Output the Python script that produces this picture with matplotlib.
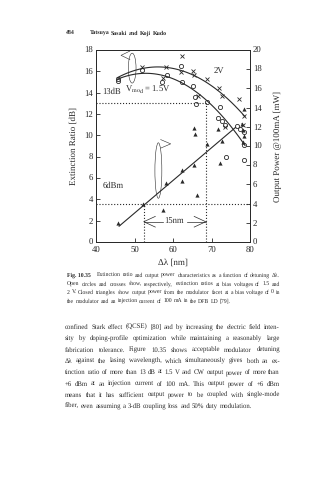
import numpy as np
import matplotlib
matplotlib.use("Agg")
from matplotlib import pyplot as plt
from matplotlib.patches import Ellipse
from matplotlib.textpath import TextPath
from matplotlib.font_manager import FontProperties

plt.rcParams['font.family'] = ['Liberation Serif', 'DejaVu Serif']
plt.rcParams['mathtext.fontset'] = 'stix'
plt.rcParams['text.hinting'] = 'no_hinting'
INK = '#2a2a2a'

# extinction ratio at 1.5 V (open circles), dB
circ_x = [45.8, 45.8, 51.9, 57.2, 58.5, 62.0, 62.3, 65.3, 65.7, 66.1, 68.8,
          72.2, 71.8, 72.6, 73.5, 73.8, 76.6, 77.5, 78.4, 78.4, 78.4]
circ_y = [15.1, 15.3, 16.1, 15.0, 15.7, 16.5, 15.0, 14.6, 13.6, 12.9, 13.1,
          12.7, 11.6, 11.3, 11.0, 8.0, 10.9, 10.6, 10.3, 9.1, 7.7]

# extinction ratio at 2 V (crosses), dB
cross_x = [51.9, 57.4, 58.1, 62.3, 62.0, 65.3, 65.5, 66.6, 68.8, 72.0,
           72.7, 73.6, 77.2, 78.4, 78.3]
cross_y = [16.4, 15.4, 16.4, 17.4, 15.9, 16.0, 15.7, 13.7, 15.3, 14.4,
           13.7, 10.8, 13.4, 11.8, 11.0]

# output power @100mA (closed triangles), mW
tri_x = [45.8, 52.1, 57.3, 58.2, 62.3, 62.3, 65.5, 66.3, 65.5, 65.7, 68.8,
         71.8, 72.2, 72.6, 78.4, 77.9, 78.2, 78.5, 78.3]
tri_p = [2.0, 4.0, 3.3, 6.1, 7.5, 6.4, 8.0, 4.9, 11.9, 11.3, 10.2,
         11.8, 8.2, 10.5, 13.9, 12.3, 11.7, 11.0, 10.4]

# points
fit15_x = [45.5, 51.4, 61.8, 68.8, 74.0, 78.7]
fit15_y = [15.25, 15.8, 15.0, 13.2, 11.4, 9.0]
fit2_x = [45.5, 58.3, 65.3, 72.2, 78.7]
fit2_y = [15.4, 16.3, 15.8, 13.9, 11.8]
pfit_x = [46.0, 52.1, 69.6, 76.3]
pfit_p = [1.5, 3.9, 9.7, 11.9]

er_limit = 13.0      # dB
p_limit = 4.0        # mW
lam_lo, lam_hi = 52.4, 68.5

fig = plt.figure(figsize=(3.35, 4.8), dpi=100)
W, H = 335.0, 480.0
ax = fig.add_axes([96 / W, 1 - 242 / H, 154 / W, 192 / H])
ax2 = ax.twinx()

ax.set_xlim(40, 80)
ax.set_ylim(0, 18)
ax2.set_ylim(0, 20)
ax.set_xticks(range(40, 81, 10))
ax.set_yticks(range(0, 19, 2))
ax2.set_yticks(range(0, 21, 2))
for a in (ax, ax2):
    a.tick_params(direction='in', length=3, width=0.6, labelsize=6.3,
                  colors=INK, pad=2)
    for s in a.spines.values():
        s.set_linewidth(0.7)
        s.set_color(INK)
ax.tick_params(axis='x', pad=3)

# fitted curves
xs = np.linspace(45.5, 78.7, 100)
ax.plot(xs, np.polyval(np.polyfit(fit15_x, fit15_y, 2), xs), color=INK, lw=0.8)
ax.plot(xs, np.polyval(np.polyfit(fit2_x, fit2_y, 2), xs), color=INK, lw=0.8)
xp = np.array([46.0, 76.3])
ax2.plot(xp, np.polyval(np.polyfit(pfit_x, pfit_p, 1), xp), color=INK, lw=0.8)

ax.plot(circ_x, circ_y, 'o', mfc='none', mec=INK, ms=3.0, mew=0.6)
ax.plot(cross_x, cross_y, 'x', color=INK, ms=3.5, mew=0.6)
ax2.plot(tri_x, tri_p, '^', color=INK, ms=3.0, mew=0)

# threshold guides
ax.plot([40, lam_hi], [er_limit, er_limit], ':', color=INK, lw=0.8)
ax.plot([lam_hi, lam_hi], [0, er_limit], ':', color=INK, lw=0.8)
ax2.plot([40, 80], [p_limit, p_limit], ':', color=INK, lw=0.8)
ax2.plot([lam_lo, lam_lo], [0, p_limit], ':', color=INK, lw=0.8)

# 15 nm window arrow
ya = 1.9
ax.plot([lam_lo, 57.3], [ya, ya], color=INK, lw=0.5)
ax.plot([63.6, lam_hi], [ya, ya], color=INK, lw=0.5)
ax.plot([lam_lo + 3.0, lam_lo, lam_lo + 3.0], [ya + 0.5, ya, ya - 0.5], color=INK, lw=0.5)
ax.plot([lam_hi - 3.0, lam_hi, lam_hi - 3.0], [ya + 0.5, ya, ya - 0.5], color=INK, lw=0.5)
ax.text(60.4, ya, '15nm', fontsize=6.2, ha='center', va='center', color=INK)

# axis markers (ellipse + pointer)
ax.add_patch(Ellipse((49.4, 16.3), 2.0, 2.8, fill=False, ec=INK, lw=0.4))
ax.plot([48.8, 46.5, 48.8], [17.9, 17.5, 17.1], color=INK, lw=0.4)
ax.add_patch(Ellipse((56.2, 6.7), 1.8, 5.2, fill=False, ec=INK, lw=0.4))
ax.plot([56.8, 59.4, 56.8], [9.6, 9.2, 8.8], color=INK, lw=0.4)

ax.text(41.6, 14.1, '13dB', fontsize=6.2, va='center', color=INK)
ax.text(47.6, 14.3, r'V$_{\mathrm{mod}}$ = 1.5V', fontsize=6.2, va='center', color=INK)
ax.text(71.8, 16.0, '2V', fontsize=6.2, ha='center', va='center', color=INK)
ax.text(44.5, 5.3, '6dBm', fontsize=6.2, ha='center', va='center', color=INK)

ax.set_xlabel('Δλ [nm]', fontsize=6.5, color=INK, labelpad=3)
ax.set_ylabel('Extinction Ratio [dB]', fontsize=6.5, color=INK, labelpad=5)
ax2.set_ylabel('Output Power @100mA [mW]', fontsize=6.5, color=INK, labelpad=9)


def text_width(s, size, weight='normal'):
    # advance of a string in pixels, from the glyph outlines
    fp = FontProperties(family='Liberation Serif', weight=weight)
    tp = TextPath((0, 0), 'x' + s + 'x', size=size, prop=fp)
    tx = TextPath((0, 0), 'xx', size=size, prop=fp)
    return (tp.get_extents().width - tx.get_extents().width) * fig.dpi / 72


def line_width(line, size, weight='normal'):
    words = line.split()
    space = text_width(' ', size, weight)
    return sum(text_width(w, size, weight) for w in words) + space * (len(words) - 1)


def fit_size(lines, width, s=6.0, weight='normal'):
    # size at which the widest line just fits its measure
    return min(width / line_width(l, s, weight) * s for l in lines) * 0.98


def justify(line, x0, x1, py, size, last=False, weight='normal'):
    words = line.split()
    widths = [text_width(w, size, weight) for w in words]
    if last or len(words) < 2:
        gap = text_width(' ', size, weight)
    else:
        gap = (x1 - x0 - sum(widths)) / (len(words) - 1)
    x = x0
    for w, wd in zip(words, widths):
        fig.text(x / W, 1 - py / H, w, fontsize=size, color=INK, va='baseline',
                 fontweight=weight)
        x += wd + gap


# running header
header = 'Tatsuya Sasaki and Koji Kudo'
head_size = fit_size([header], 78, weight='bold')
fig.text(66 / W, 1 - 35 / H, '484', fontsize=head_size, fontweight='bold',
         color=INK, va='baseline')
justify(header, 90, 168, 35, head_size, last=True, weight='bold')

caption = [
    'Extinction ratio and output power characteristics as a function of detuning Δλ.',
    'Open circles and crosses show, respectively, extinction ratios at bias voltages of 1.5 and',
    '2 V. Closed triangles show output power from the modulator facet at a bias voltage of 0 in',
    'the modulator and an injection current of 100 mA in the DFB LD [79].',
]
cap_size = fit_size(caption[1:3], 213)
fig_w = text_width('Fig. 10.35', cap_size, 'bold')
fig.text(67 / W, 1 - 277 / H, 'Fig. 10.35', fontsize=cap_size, fontweight='bold',
         color=INK, va='baseline')
justify(caption[0], 67 + fig_w + 6, 280, 277, cap_size)
for i, line in enumerate(caption[1:]):
    justify(line, 67, 280, 277 + 8.5 * (i + 1), cap_size, last=(i == 2))

body = [
    'confined Stark effect (QCSE) [80] and by increasing the electric field inten-',
    'sity by doping-profile optimization while maintaining a reasonably large',
    'fabrication tolerance. Figure 10.35 shows acceptable modulator detuning',
    'Δλ against the lasing wavelength, which simultaneously gives both an ex-',
    'tinction ratio of more than 13 dB at 1.5 V and CW output power of more than',
    '+6 dBm at an injection current of 100 mA. This output power of +6 dBm',
    'means that it has sufficient output power to be coupled with single-mode',
    'fiber, even assuming a 3-dB coupling loss and 50% duty modulation.',
]
body_size = fit_size(body[:-1], 215)
for i, line in enumerate(body):
    justify(line, 65, 280, 329 + 11.3 * i, body_size, last=(i == len(body) - 1))

fig.savefig('out.png', dpi=100)
